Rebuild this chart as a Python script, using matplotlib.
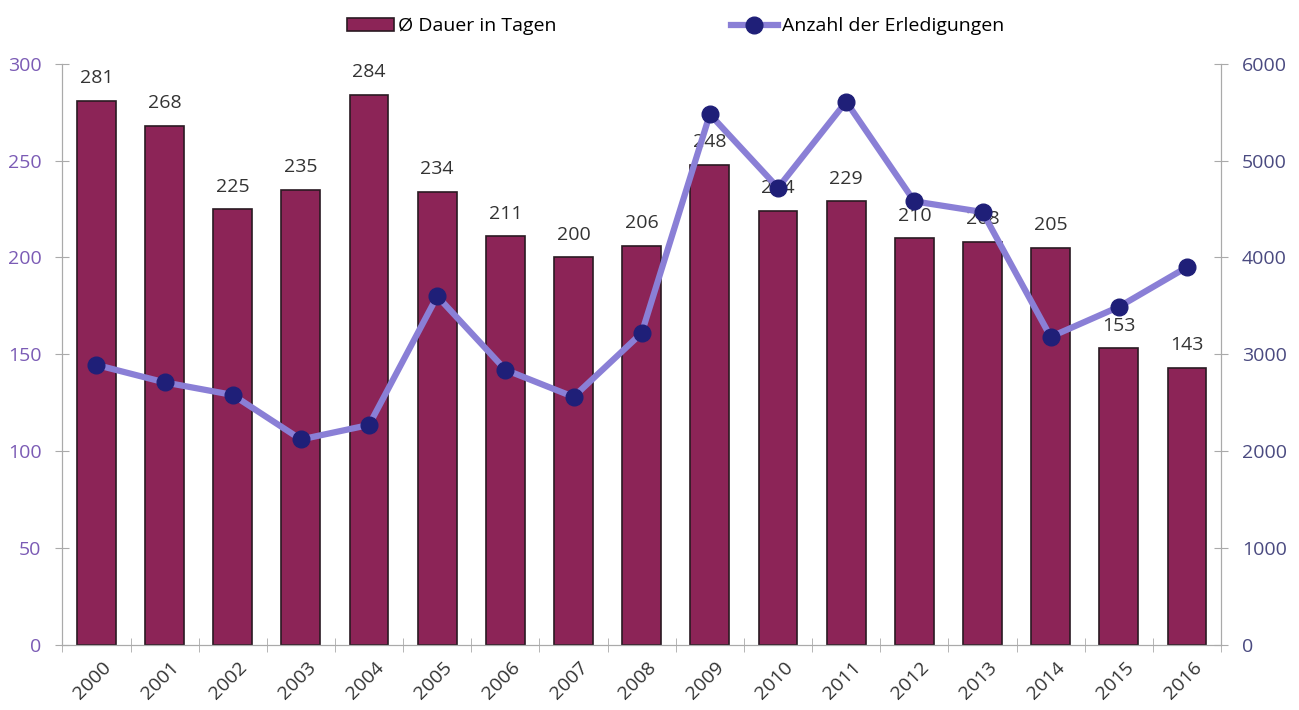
import numpy as np
import matplotlib.pyplot as plt
from matplotlib.ticker import FixedLocator

plt.rcParams['font.family'] = ['Open Sans', 'DejaVu Sans']

years = [str(y) for y in range(2000, 2017)]
dauer = [281, 268, 225, 235, 284, 234, 211, 200, 206, 248, 224, 229, 210, 208, 205, 153, 143]
erledigungen = [2890, 2710, 2580, 2120, 2270, 3600, 2840, 2560, 3220, 5480, 4720, 5610, 4580, 4470, 3180, 3490, 3900]

bar_color = '#8c2457'
line_color = '#8a7fd6'
dot_color = '#1f1f78'

fig = plt.figure(figsize=(12.99, 7.10), dpi=100)
ax = fig.add_axes([0.048, 0.092, 0.892, 0.818])
x = np.arange(len(years))

bars = ax.bar(x, dauer, width=0.57, color=bar_color, edgecolor='#2a1a22', linewidth=1.2,
              label='Ø Dauer in Tagen', zorder=2)
for xi, v in zip(x, dauer):
    ax.text(xi, v + 7, str(v), ha='center', va='bottom', fontsize=14, color='#333333', zorder=5)

ax.set_xlim(-0.5, len(years) - 0.5)
ax.set_ylim(0, 300)
ax.set_yticks(np.arange(0, 301, 50))
ax.tick_params(axis='y', colors='#7b5bb5', labelsize=14, direction='inout', length=10, width=0.8, pad=10)
ax.tick_params(axis='y', color='#aaaaaa')
ax.set_xticks(x + 0.08)
ax.set_xticklabels(years, rotation=45, ha='right', rotation_mode='anchor', fontsize=14, color='#333333')
ax.tick_params(axis='x', length=0, pad=10)
ax.xaxis.set_minor_locator(FixedLocator(np.arange(-0.5, len(years), 1)))
ax.tick_params(axis='x', which='minor', direction='inout', length=10, color='#aaaaaa')
ax.spines['top'].set_visible(False)
for side in ['left', 'bottom', 'right']:
    ax.spines[side].set_color('#aaaaaa')
    ax.spines[side].set_linewidth(0.8)

ax2 = ax.twinx()
ax2.plot(x, erledigungen, color=line_color, linewidth=4.5, marker='o', markersize=12,
         markerfacecolor=dot_color, markeredgecolor=dot_color, label='Anzahl der Erledigungen', zorder=4)
ax2.set_ylim(0, 6000)
ax2.set_yticks(np.arange(0, 6001, 1000))
ax2.tick_params(axis='y', colors='#4a4a80', labelsize=14, direction='inout', length=10, width=0.8, pad=10)
ax2.tick_params(axis='y', color='#aaaaaa')
ax2.spines['top'].set_visible(False)
for side in ['left', 'bottom', 'right']:
    ax2.spines[side].set_color('#aaaaaa')
    ax2.spines[side].set_linewidth(0.8)

h1, l1 = ax.get_legend_handles_labels()
h2, l2 = ax2.get_legend_handles_labels()
fig.legend(h1 + h2, l1 + l2, loc='upper center', bbox_to_anchor=(0.52, 1.0), ncol=2,
           frameon=False, fontsize=14, columnspacing=9, handletextpad=0.2, handlelength=2.4)

fig.savefig('out.png', dpi=100)
